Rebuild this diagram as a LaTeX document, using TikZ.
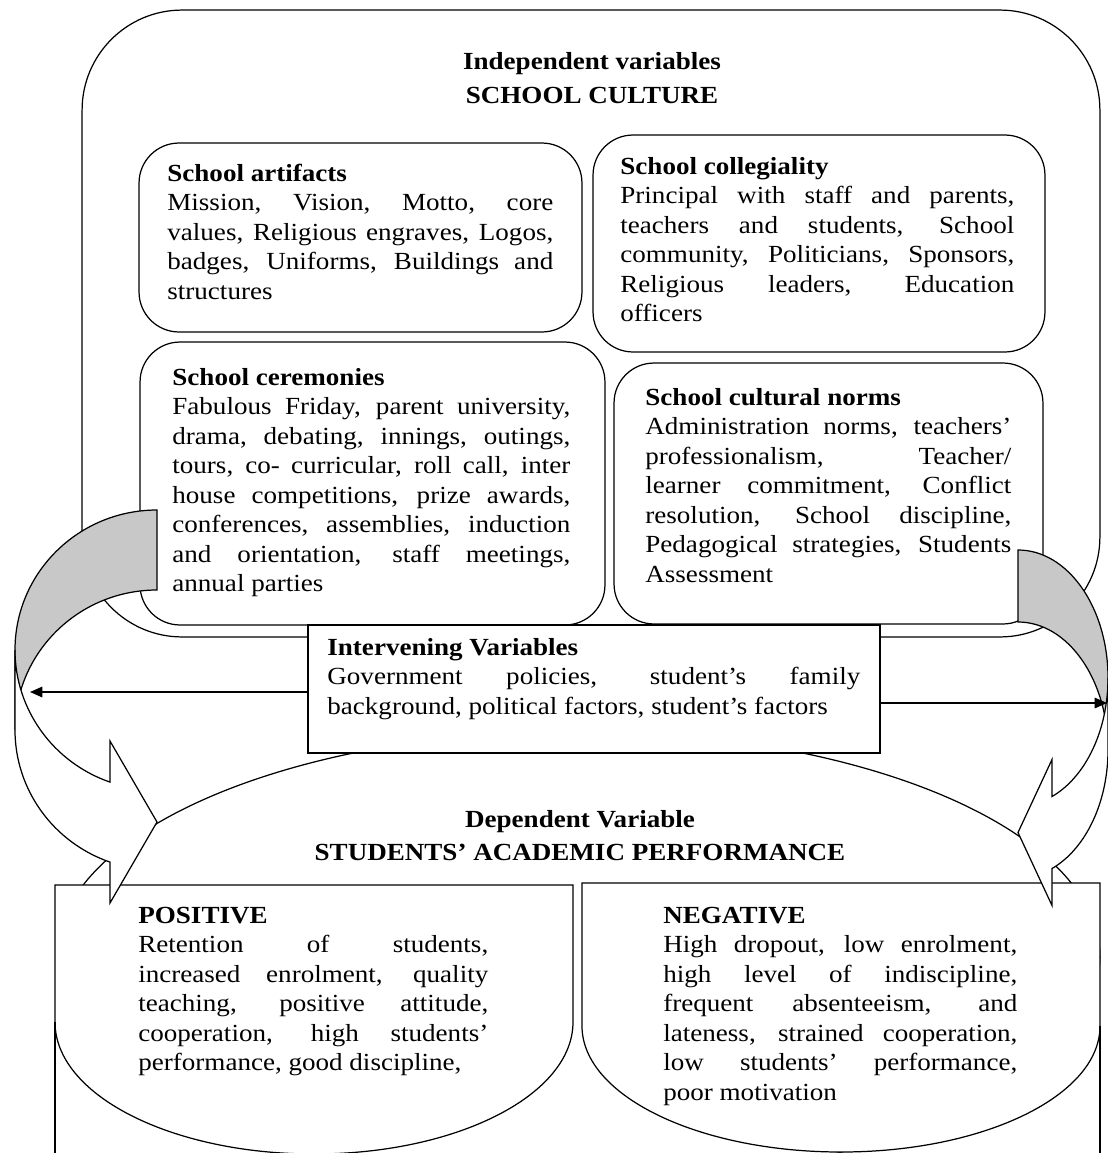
\documentclass[tikz,border=0pt]{standalone}
\usepackage{fontspec}
\setmainfont{Liberation Serif}[FakeStretch=1.1]
\usepackage{xcolor}
\usepackage{tikz}
\usetikzlibrary{shapes.geometric,arrows.meta,positioning}

\definecolor{backgray}{RGB}{200,200,200}

\tikzset{
    bigbox/.style={draw, line width=0.7pt, fill=white, rounded corners=2cm,
        inner sep=0pt, outer sep=0pt},
    cultbox/.style={draw, line width=0.7pt, fill=white, rounded corners=0.8cm,
        inner sep=0pt, outer sep=0pt},
    plainbox/.style={draw, line width=0.7pt, fill=white, inner sep=0pt, outer sep=0pt},
    boxtext/.style={anchor=north west, inner sep=0pt, align=justify,
        font=\fontsize{14}{16.8}\selectfont, execute at begin node=\strut},
    headtext/.style={anchor=base, inner sep=0pt,
        font=\fontsize{14}{16.8}\selectfont\bfseries},
    ushape/.style={draw, line width=0.7pt, fill=white},
    bendarrow/.style={draw, line width=0.7pt, line join=miter},
    flow/.style={draw, line width=0.7pt, -{Triangle[length=7pt,width=6pt]}}
}

\tolerance=10000
\hbadness=10000

\begin{document}
\begin{tikzpicture}[x=0.02cm, y=-0.02cm]
    \useasboundingbox (0,0) rectangle (1108,1153);
    \fill[white] (0,0) rectangle (1108,1153);
    \clip (0,0) rectangle (1108,1153);

    \node[bigbox, minimum width=20.36cm, minimum height=12.54cm] (culture) at (591,323.5) {};
    \node[headtext] (indep) at (592,69) {Independent variables};
    \node[headtext] (culturetitle) at (592,103) {SCHOOL CULTURE};

    \node[cultbox, minimum width=8.86cm, minimum height=3.78cm] (artifacts) at (360.5,237.5) {};
    \node[boxtext, text width=7.72cm] (artifactstext) at ([shift={(28,17)}]artifacts.north west)
        {\textbf{School artifacts}\par
        Mission, Vision, Motto, core\linebreak
        values, Religious engraves, Logos,\linebreak
        badges, Uniforms, Buildings and\linebreak
        structures};

    \node[cultbox, minimum width=9.04cm, minimum height=4.34cm] (collegiality) at (819,243.5) {};
    \node[boxtext, text width=7.88cm] (collegialitytext) at ([shift={(27,18)}]collegiality.north west)
        {\textbf{School collegiality}\par
        Principal with staff and parents,\linebreak
        teachers and students, School\linebreak
        community, Politicians, Sponsors,\linebreak
        Religious leaders, Education\linebreak
        officers};

    \node[cultbox, minimum width=9.3cm, minimum height=5.66cm] (ceremonies) at (372.5,483.5) {};
    \node[boxtext, text width=7.96cm] (ceremoniestext) at ([shift={(32,22)}]ceremonies.north west)
        {\textbf{School ceremonies}\par
        Fabulous Friday, parent university,\linebreak
        drama, debating, innings, outings,\linebreak
        tours, co- curricular, roll call, inter\linebreak
        house competitions, prize awards,\linebreak
        conferences, assemblies, induction\linebreak
        and orientation, staff meetings,\linebreak
        annual parties};

    \node[cultbox, minimum width=8.58cm, minimum height=5.22cm] (norms) at (828.5,493.5) {};
    \node[boxtext, text width=7.32cm] (normstext) at ([shift={(31,21)}]norms.north west)
        {\textbf{School cultural norms}\par
        Administration norms, teachers’\linebreak
        professionalism, Teacher/\linebreak
        learner commitment, Conflict\linebreak
        resolution, School discipline,\linebreak
        Pedagogical strategies, Students\linebreak
        Assessment};

    \node[draw, ellipse, line width=0.7pt, fill=white, inner sep=0pt,
        minimum width=20.88cm, minimum height=9.04cm] (dependent) at (578,957) {};
    \node[headtext] (deptitle) at (580,827) {Dependent Variable};
    \node[headtext] (depsub) at (580,860) {STUDENTS’ ACADEMIC PERFORMANCE};

    \draw[ushape] (55,885) -- (573,885) -- (573,1022)
        arc[start angle=0, end angle=180, x radius=259, y radius=132] -- cycle;
    \draw[line width=0.7pt] (55,1022) -- (55,1160);
    \node[boxtext, text width=7cm] (positive) at (138,902)
        {\textbf{POSITIVE}\par
        Retention of students,\linebreak
        increased enrolment, quality\linebreak
        teaching, positive attitude,\linebreak
        cooperation, high students’\linebreak
        performance, good discipline,};

    \draw[ushape] (582,883) -- (1100,883) -- (1100,1026)
        arc[start angle=0, end angle=180, x radius=259, y radius=126] -- cycle;
    \draw[line width=0.7pt] (1100,1026) -- (1100,1160);
    \node[boxtext, text width=7.08cm] (negative) at (663,902)
        {\textbf{NEGATIVE}\par
        High dropout, low enrolment,\linebreak
        high level of indiscipline,\linebreak
        frequent absenteeism, and\linebreak
        lateness, strained cooperation,\linebreak
        low students’ performance,\linebreak
        poor motivation};

    \draw[
        bendarrow,
        fill=backgray
        ] (157,510)
        arc[start angle=270, end angle=180, x radius=142, y radius=140]
        -- (15,730)
        arc[start angle=180, end angle=270, x radius=142, y radius=140]
        -- cycle;

    \draw[
        bendarrow,
        fill=white
        ] (15,650)
        arc[start angle=180, end angle=109.33, x radius=142, y radius=140]
        -- (110,741) -- (157,822) -- (110,903) -- (110,862.1)
        arc[start angle=109.33, end angle=180, x radius=142, y radius=140]
        -- cycle;

    \draw[
        bendarrow,
        fill=backgray
        ] (1018,550)
        arc[start angle=270, end angle=360, x radius=90, y radius=128]
        -- (1108,750)
        arc[start angle=0, end angle=-90, x radius=90, y radius=128]
        -- cycle;

    \draw[
        bendarrow,
        fill=white
        ] (1108,678)
        arc[start angle=0, end angle=67.8, x radius=90, y radius=128]
        -- (1052,759.5) -- (1018,832.5) -- (1052,905.5) -- (1052,868.5)
        arc[start angle=67.8, end angle=0, x radius=90, y radius=128]
        -- cycle;

    \node[plainbox, minimum width=11.44cm, minimum height=2.56cm] (intervening) at (594,689) {};
    \node[boxtext, text width=10.66cm] (interveningtext) at ([shift={(19,9)}]intervening.north west)
        {\textbf{Intervening Variables}\par
        Government policies, student’s family\linebreak
        background, political factors, student’s factors};

    \coordinate (lefttip) at (30,692);
    \coordinate (righttip) at (1107,703);
    \draw[flow] (intervening.west |- lefttip) -- (lefttip);
    \draw[flow] (intervening.east |- righttip) -- (righttip);
\end{tikzpicture}
\end{document}
